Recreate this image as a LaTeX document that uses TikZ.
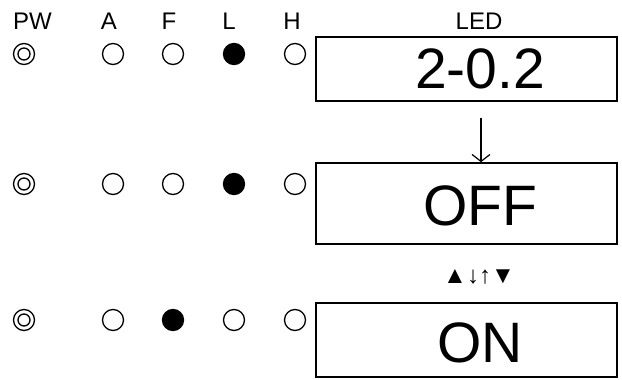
\documentclass[tikz,border=0pt]{standalone}
\usepackage{fontspec}
\setmainfont{Liberation Sans}
\usetikzlibrary{arrows.meta}

\begin{document}
\begin{tikzpicture}[x=1pt,y=-1pt,
  lamp/.style={circle,draw,line width=1.3pt,minimum size=21pt,inner sep=0pt},
  head/.style={font=\fontsize{24}{24}\selectfont,inner sep=0pt,anchor=base},
  panel/.style={draw,line width=1.6pt,minimum width=301pt,inner sep=0pt},
  readout/.style={font=\fontsize{57}{57}\selectfont,inner sep=0pt,anchor=base}]
\useasboundingbox (0,0) rectangle (622,380);

\node[head] (hpw) at (32.5,29) {PW};
\node[head] (ha) at (109,29) {A};
\node[head] (hf) at (169,29) {F};
\node[head] (hl) at (229,29) {L};
\node[head] (hh) at (292,29) {H};
\node[head] (hled) at (479,29) {LED};

\foreach \r/\y/\on in {1/54/2, 2/184/2, 3/320/1} {
  \node[lamp] (pw\r) at (24,\y) {};
  \node[lamp,minimum size=12pt] (pwi\r) at (24,\y) {};
  \foreach \c/\x in {0/113,1/173,2/234,3/295} {
    \ifnum\c=\on \def\lampfill{black}\else \def\lampfill{white}\fi
    \node[lamp,fill=\lampfill] (l\r\c) at (\x,\y) {};
  }
}

\node[panel,minimum height=64pt] (led1) at (466.5,69) {};
\node[panel,minimum height=81pt] (led2) at (466.5,203.5) {};
\node[panel,minimum height=74pt] (led3) at (466.5,340) {};

\node[readout] (v1) at (480,88) {2-0.2};
\node[readout] (v2) at (480,225) {OFF};
\node[readout] (v3) at (480,362) {ON};

\coordinate (dn) at (481,118);
\draw[line width=1.2pt,-{Straight Barb[length=7pt,width=18pt]}] (dn) -- (dn |- led2.north);

\node[font=\fontsize{24}{24}\selectfont,inner sep=0pt] (keys) at (479,277) {▲↓↑▼};
\end{tikzpicture}
\end{document}
